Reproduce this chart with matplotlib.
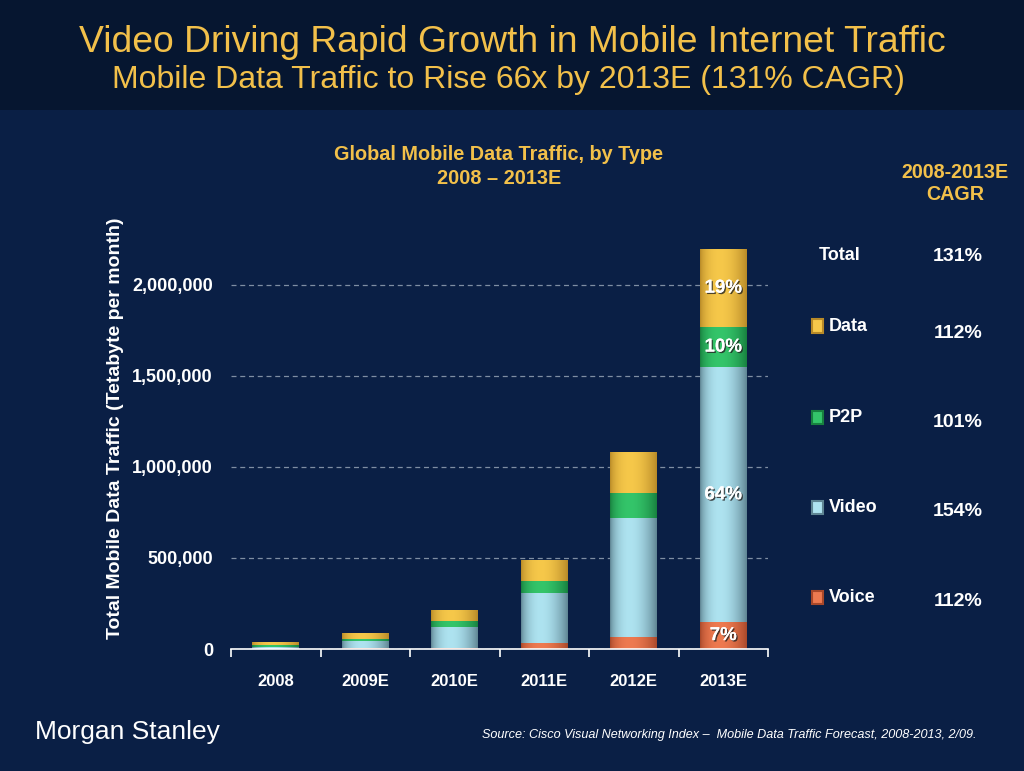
import numpy as np
import matplotlib
matplotlib.use("Agg")
import matplotlib.pyplot as plt
from matplotlib.patches import Rectangle
from matplotlib.colors import to_rgb
import matplotlib.patheffects as pe

# ---------------- data ----------------
years = ["2008", "2009E", "2010E", "2011E", "2012E", "2013E"]
series = ["Voice", "Video", "P2P", "Data"]
voice = [1000, 3000, 8000, 31000, 68000, 147000]
video = [11000, 40000, 114000, 278000, 652000, 1399000]
p2p = [9000, 12000, 33000, 66000, 137000, 222000]
data = [12000, 31000, 57000, 110000, 223000, 425000]
cagr_labels = ["112%", "154%", "101%", "112%"]   # Voice, Video, P2P, Data
total_cagr = "131%"
yticks = [0, 500000, 1000000, 1500000, 2000000]

# ---------------- style ----------------
BG = "#0a1f45"
BAND = "#061630"
GOLD = "#f2c04a"
light_cols = {"Voice": "#ee7a50", "Video": "#aee3f0", "P2P": "#34c56a", "Data": "#f6c84a"}
dark_cols = {"Voice": "#a8482a", "Video": "#5f8593", "P2P": "#18803f", "Data": "#b88a28"}
FONT = "Liberation Sans"
plt.rcParams["font.family"] = [FONT, "DejaVu Sans"]

W, H = 1024, 771
fig = plt.figure(figsize=(W / 100, H / 100), dpi=100, facecolor=BG)
fig.patches.append(Rectangle((0, 1 - 110 / H), 1, 110 / H, transform=fig.transFigure,
                             facecolor=BAND, edgecolor="none", zorder=0))

fig.text(512 / W, 1 - 43 / H, "Video Driving Rapid Growth in Mobile Internet Traffic",
         ha="center", va="center", color=GOLD, fontsize=26.8)
fig.text(508 / W, 1 - 80 / H, "Mobile Data Traffic to Rise 66x by 2013E (131% CAGR)",
         ha="center", va="center", color=GOLD, fontsize=23)

ax_left, ax_right = 231 / W, 768 / W
ax_bottom = (H - 649) / H
ymax = 2300000
px_per_unit = 91.1 / 500000
ax_top_px = 649 - ymax * px_per_unit
ax_h_px = 649 - ax_top_px
ax = fig.add_axes([ax_left, ax_bottom, ax_right - ax_left, ax_h_px / H])
ax.set_facecolor("none")

x = np.arange(len(years))
vals = {"Voice": voice, "Video": video, "P2P": p2p, "Data": data}
bottom = np.zeros(len(years))
bar_w = 0.525


def gradient_img(name):
    t = np.linspace(0, 1, 64)
    p = np.sin(np.pi * t ** 0.8) ** 0.8
    lc = np.array(to_rgb(light_cols[name]))
    dc = np.array(to_rgb(dark_cols[name]))
    cols = dc[None, :] + (lc - dc)[None, :] * p[:, None]
    return cols[None, :, :]


containers = {}
for name in series:
    v = np.array(vals[name], dtype=float)
    bars = ax.bar(x, v, bar_w, bottom=bottom, color=light_cols[name], edgecolor="none", zorder=2)
    img = gradient_img(name)
    for r in bars:
        bx, by = r.get_x(), r.get_y()
        bw, bh = r.get_width(), r.get_height()
        ax.imshow(img, extent=[bx, bx + bw, by, by + bh], aspect="auto",
                  interpolation="bilinear", zorder=2.5)
    containers[name] = (v, bottom.copy())
    bottom = bottom + v

# share labels in last bar
last = len(years) - 1
total_last = bottom[last]
for name in series:
    v, b = containers[name]
    share = v[last] / total_last * 100
    ax.text(x[last], b[last] + v[last] / 2, f"{share:.0f}%", ha="center", va="center",
            color="white", fontsize=13.5, fontweight="bold", zorder=5,
            path_effects=[pe.withSimplePatchShadow(offset=(1, -1), shadow_rgbFace="#222222", alpha=0.8),
                          pe.Normal()])

ax.set_xlim(-0.5, len(years) - 0.5)
ax.set_ylim(0, ymax)
ax.set_yticks(yticks)
ax.set_yticklabels([f"{t:,.0f}" for t in yticks])
ax.yaxis.grid(True, linestyle=(0, (4, 3)), color="#7f8ea3", linewidth=0.9, zorder=1)
ax.set_axisbelow(True)
for s in ["top", "right", "left"]:
    ax.spines[s].set_visible(False)
ax.spines["bottom"].set_color("white")
ax.spines["bottom"].set_linewidth(1.2)
ax.tick_params(axis="y", length=0, pad=13, labelcolor="white", labelsize=13)
ax.tick_params(axis="x", which="major", length=0, pad=18, labelcolor="white", labelsize=12)
for lab in ax.get_yticklabels() + ax.get_xticklabels():
    lab.set_fontweight("bold")
ax.set_xticks(x)
ax.set_xticklabels(years)
ax.set_xticks(np.arange(-0.5, len(years)), minor=True)
ax.tick_params(axis="x", which="minor", length=6, width=1.2, color="white", direction="out")
ax.set_ylabel("Total Mobile Data Traffic (Tetabyte per month)", color="white",
              fontsize=14, fontweight="bold", va="center")
ax.yaxis.set_label_coords((116 - 231) / (768 - 231), (649 - 428) / ax_h_px)

# chart titles
fig.text(499 / W, 1 - 155 / H, "Global Mobile Data Traffic, by Type", ha="center", va="center",
         color=GOLD, fontsize=14.3, fontweight="bold")
fig.text(499 / W, 1 - 178 / H, "2008 \u2013 2013E", ha="center", va="center",
         color=GOLD, fontsize=14.3, fontweight="bold")
fig.text(955 / W, 1 - 172 / H, "2008-2013E", ha="center", va="center",
         color=GOLD, fontsize=14.2, fontweight="bold")
fig.text(955 / W, 1 - 194 / H, "CAGR", ha="center", va="center",
         color=GOLD, fontsize=14.2, fontweight="bold")

# right-hand legend + CAGR
fig.text(840 / W, 1 - 255 / H, "Total", ha="center", va="center", color="white",
         fontsize=13, fontweight="bold")
fig.text(958 / W, 1 - 257 / H, total_cagr, ha="center", va="center", color="white",
         fontsize=14, fontweight="bold")
legend_order = ["Data", "P2P", "Video", "Voice"]
label_y = {"Data": 326, "P2P": 417, "Video": 507, "Voice": 597}
pct_y = {"Data": 334, "P2P": 422, "Video": 511, "Voice": 602}
for name in legend_order:
    yy = label_y[name]
    fig.patches.append(Rectangle((812 / W, 1 - (yy + 6.5) / H), 11 / W, 13 / H,
                                 transform=fig.transFigure, facecolor=light_cols[name],
                                 edgecolor=dark_cols[name], linewidth=1.5, zorder=3))
    fig.text(829 / W, 1 - yy / H, name, ha="left", va="center", color="white",
             fontsize=13, fontweight="bold")
    fig.text(958 / W, 1 - pct_y[name] / H, cagr_labels[series.index(name)], ha="center",
             va="center", color="white", fontsize=14, fontweight="bold")

fig.text(35 / W, 1 - 732 / H, "Morgan Stanley", ha="left", va="center", color="white",
         fontsize=19)
fig.text(976 / W, 1 - 735 / H,
         "Source: Cisco Visual Networking Index \u2013  Mobile Data Traffic Forecast, 2008-2013, 2/09.",
         ha="right", va="center", color="white", fontsize=9.1, style="italic")

fig.savefig("out.png", dpi=100, facecolor=BG)
